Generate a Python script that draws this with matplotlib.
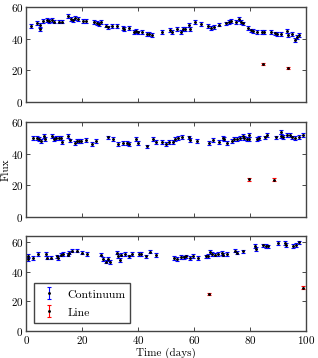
import matplotlib
matplotlib.use('Agg')
import matplotlib.pyplot as plt

plt.rcParams['font.family'] = ['cmr10', 'DejaVu Serif']
plt.rcParams['axes.formatter.use_mathtext'] = True
plt.rcParams['mathtext.fontset'] = 'cm'

# panel 1
t1 = [1.8, 3.8, 4.9, 4.9, 6.2, 7.4, 8.3, 9.2, 10.1, 11.9, 12.9, 15.1, 16.1, 16.9, 17.6, 18.5,
      20.5, 21.3, 24.4, 25.5, 26.2, 26.9, 28.6, 29.2, 30.7, 32.4, 34.5, 35.0, 36.7, 38.6, 39.2,
      40.1, 41.3, 43.1, 44.0, 45.1, 48.7, 51.4, 52.3, 53.8, 55.3, 56.1, 56.9, 58.2, 58.6, 60.4,
      62.6, 65.1, 66.0, 67.1, 68.8, 71.5, 72.4, 73.2, 75.0, 76.0, 76.7, 77.6, 79.2, 80.2, 81.0,
      82.4, 84.2, 84.9, 87.7, 88.9, 89.8, 91.0, 93.1, 93.7, 94.9, 96.0, 96.9, 97.7]
f1 = [48.2, 50.1, 48.8, 45.9, 51.4, 51.8, 51.4, 52.0, 50.9, 50.9, 50.9, 54.5, 52.4, 51.6, 52.9, 52.4,
      51.4, 51.4, 50.5, 50.1, 49.3, 50.5, 48.4, 47.2, 48.0, 48.2, 47.0, 46.0, 46.6, 44.5, 45.0,
      44.0, 44.2, 43.2, 42.8, 42.2, 44.3, 45.5, 44.2, 46.4, 44.5, 46.4, 46.4, 48.7, 46.0, 50.6,
      49.5, 48.0, 46.6, 47.4, 49.0, 49.7, 50.7, 51.4, 50.7, 52.4, 50.7, 49.7, 46.6, 45.3, 45.0,
      44.5, 44.5, 44.3, 44.3, 43.4, 43.2, 43.0, 45.0, 42.5, 42.8, 39.4, 41.0, 42.2]
lt1 = [84.8, 93.7]
lf1 = [24.0, 21.5]

# panel 2
t2 = [2.4, 4.0, 4.7, 5.5, 6.5, 6.6, 9.4, 9.8, 10.6, 11.8, 12.5, 12.9, 14.9, 15.7, 17.5, 18.1, 18.9,
      19.5, 21.4, 23.5, 24.9, 29.2, 31.2, 32.7, 34.7, 35.9, 36.8, 39.3, 40.1, 43.3, 45.5, 46.4,
      48.7, 49.9, 51.1, 52.4, 53.2, 54.2, 55.6, 58.3, 58.6, 61.0, 65.5, 66.9, 69.0, 70.2, 70.7,
      71.9, 73.5, 74.3, 75.5, 76.4, 77.4, 78.0, 78.8, 79.8, 79.8, 82.4, 83.2, 85.4, 86.2, 89.3,
      91.0, 91.0, 91.9, 93.4, 94.3, 95.2, 96.0, 97.6, 98.8]
f2 = [49.7, 50.1, 49.1, 48.2, 51.2, 49.5, 51.2, 49.5, 50.1, 50.1, 50.1, 47.4, 51.2, 48.4, 46.6, 47.8, 47.8,
      48.2, 48.8, 46.2, 47.8, 50.3, 49.1, 46.2, 47.0, 47.0, 46.0, 49.5, 47.0, 44.6, 49.5, 47.2,
      47.2, 46.0, 47.2, 47.2, 49.1, 49.7, 50.7, 50.3, 48.8, 47.8, 46.6, 48.8, 47.4, 49.7, 49.1,
      47.0, 48.2, 49.1, 49.1, 49.7, 51.2, 49.7, 49.1, 51.6, 49.1, 49.1, 49.7, 50.3, 51.6, 50.3,
      53.5, 51.2, 50.7, 51.6, 51.6, 50.3, 49.7, 50.7, 51.6]
lt2 = [79.6, 88.7]
lf2 = [23.8, 23.6]

# panel 3
t3 = [0.6, 0.6, 2.4, 4.2, 7.0, 7.4, 8.8, 11.0, 11.3, 12.5, 13.3, 14.9, 15.5, 16.4, 18.3, 19.9, 21.9,
      26.8, 27.6, 28.6, 29.2, 30.0, 32.4, 33.0, 33.6, 34.0, 35.5, 36.7, 37.9, 40.5, 41.1, 42.7,
      44.3, 46.3, 52.9, 53.8, 55.2, 56.5, 57.3, 58.5, 59.8, 61.3, 64.2, 65.1, 65.7, 66.3, 67.5,
      68.7, 69.9, 70.5, 71.9, 74.6, 75.5, 77.4, 81.8, 82.1, 84.8, 85.6, 86.6, 90.1, 92.5, 92.9,
      95.5, 96.5, 97.5]
f3 = [50.6, 48.4, 49.0, 51.9, 51.9, 49.4, 49.4, 50.2, 49.0, 51.5, 51.9, 51.5, 52.8, 54.2, 54.2, 52.8, 51.9,
      51.5, 48.4, 46.7, 48.4, 46.3, 52.8, 50.6, 48.0, 51.5, 51.9, 50.2, 51.9, 51.9, 51.9, 50.2,
      53.5, 51.0, 49.0, 48.4, 49.8, 49.5, 50.2, 49.0, 50.6, 49.0, 50.2, 50.6, 53.1, 51.9, 51.5,
      51.9, 52.4, 51.5, 51.9, 54.2, 52.8, 53.6, 57.4, 55.2, 57.6, 57.4, 57.0, 59.3, 59.3, 57.8,
      57.4, 58.0, 59.6]
lt3 = [65.4, 99.0]
lf3 = [24.8, 29.3]

cont_err = 1.2
line_err = 0.8

fig = plt.figure(figsize=(3.18, 3.58), dpi=100)
boxes = [[0.082, 0.715, 0.88, 0.265], [0.082, 0.394, 0.88, 0.265], [0.082, 0.075, 0.88, 0.266]]
panels = [(t1, f1, lt1, lf1, 60), (t2, f2, lt2, lf2, 60), (t3, f3, lt3, lf3, 64)]

for i, (box, (t, f, lt, lf, ytop)) in enumerate(zip(boxes, panels)):
    ax = fig.add_axes(box)
    ax.errorbar(t, f, yerr=cont_err, fmt='.', color='k', ms=2.5, ecolor='blue',
                elinewidth=0.8, capsize=1.5, mew=0.8, label='Continuum')
    ax.errorbar(lt, lf, yerr=line_err, fmt='.', color='k', ms=2.5, ecolor='red',
                elinewidth=0.8, capsize=1.5, mew=0.8, label='Line')
    ax.set_xlim(0, 100)
    ax.set_ylim(0, ytop)
    ax.set_yticks([0, 20, 40, 60])
    ax.set_xticks([0, 20, 40, 60, 80, 100])
    ax.tick_params(direction='in', top=True, right=True, length=3, width=0.5, labelsize=8, pad=2)
    for s in ax.spines.values():
        s.set_color('#444444')
        s.set_linewidth(1.0)
    if i < 2:
        ax.set_xticklabels([])
    if i == 1:
        ax.set_ylabel('Flux', fontsize=8)
        ax.yaxis.set_label_coords(-0.055, 0.5)
    if i == 2:
        ax.set_xlabel('Time (days)', fontsize=8, labelpad=1)
        leg = ax.legend(loc='lower left', fontsize=8.5, fancybox=False, framealpha=1,
                        borderaxespad=0.7, handlelength=1.6, handleheight=1.2)
        leg.get_frame().set_edgecolor('#444444')

fig.savefig('out.png', dpi=100)
